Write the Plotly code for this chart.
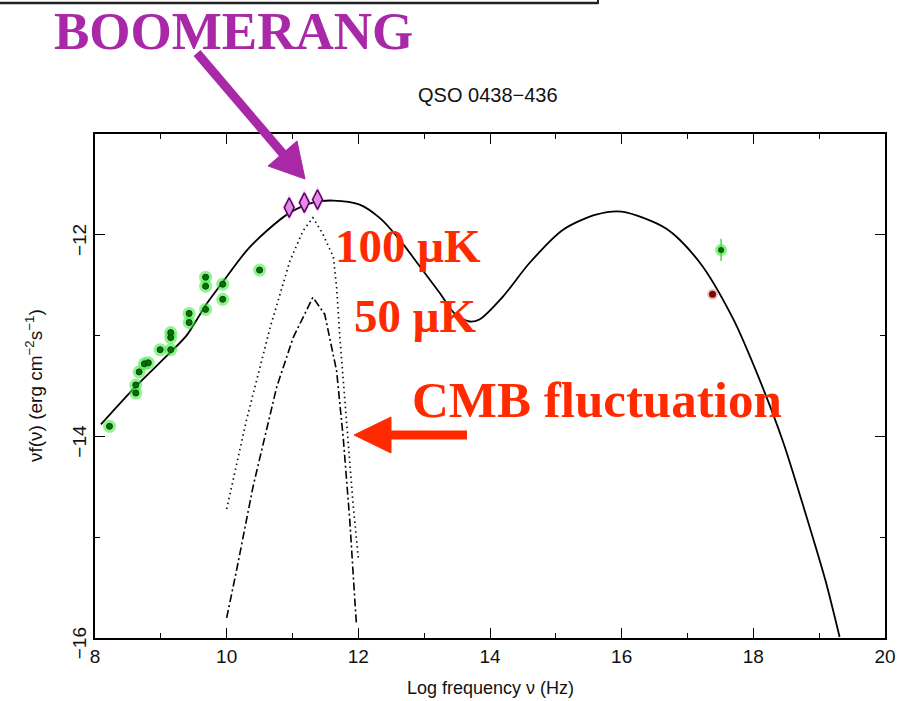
import plotly.graph_objects as go

# ---------------- data ----------------
# radio / mm data (green)
radio_x = [8.22, 8.62, 8.62, 8.67, 8.75, 8.81, 8.99, 9.15, 9.15, 9.15, 9.43, 9.43,
           9.68, 9.68, 9.68, 9.94, 9.94, 10.50]
radio_y = [-13.90, -13.49, -13.57, -13.36, -13.28, -13.27, -13.14, -12.97, -13.02, -13.14,
           -12.78, -12.87, -12.42, -12.51, -12.74, -12.49, -12.64, -12.35]

# BOOMERANG (purple diamonds)
boom_x = [10.95, 11.18, 11.38]
boom_y = [-11.73, -11.68, -11.65]

# X-ray points
xray_g_x = [17.51]
xray_g_y = [-12.15]
xray_g_err = [0.11]
xray_r_x = [17.38]
xray_r_y = [-12.59]

# SED model (solid)
model_x = [8.09, 8.61, 9.14, 9.39, 9.52, 9.69, 9.95, 10.30, 10.61, 10.96, 11.31, 11.62,
           12.02, 12.32, 12.63, 12.93, 13.24, 13.46, 13.69, 13.84, 14.20, 14.60, 15.11,
           15.61, 16.00, 16.68, 17.18, 17.69, 18.09, 18.45, 18.80, 19.10, 19.31]
model_y = [-13.88, -13.51, -13.17, -13.00, -12.87, -12.69, -12.46, -12.16, -11.96, -11.78,
           -11.68, -11.66, -11.70, -11.83, -12.05, -12.31, -12.58, -12.78, -12.86, -12.84,
           -12.61, -12.28, -11.95, -11.80, -11.77, -11.94, -12.27, -12.83, -13.43, -14.05,
           -14.78, -15.44, -15.99]

# CMB fluctuation 100 uK (dotted)
cmb100_x = [10.00, 10.30, 10.66, 10.96, 11.16, 11.31, 11.46, 11.62, 11.67, 11.72, 11.84, 11.92, 12.00]
cmb100_y = [-14.72, -13.84, -12.92, -12.26, -11.96, -11.83, -11.99, -12.22, -12.52, -13.02,
            -14.01, -14.67, -15.21]

# CMB fluctuation 50 uK (dash-dot)
cmb50_x = [10.00, 10.15, 10.40, 10.76, 11.01, 11.31, 11.49, 11.67, 11.77, 11.87, 11.95, 11.97]
cmb50_y = [-15.80, -15.33, -14.50, -13.51, -13.02, -12.62, -12.79, -13.35, -14.01, -14.83,
           -15.66, -15.85]

x_ticks = [8, 10, 12, 14, 16, 18, 20]
x_ticktext = ["8", "10", "12", "14", "16", "18", "20"]
y_ticks = [-16, -14, -12]
y_ticktext = ["\u221216", "\u221214", "\u221212"]

# ---------------- layout geometry ----------------
W, H = 913, 701
ML, MR, MT, MB = 95, 28, 134, 63
PW, PH = W - ML - MR, H - MT - MB


def px(x):
    return (x - ML) / PW


def py(y):
    return (H - MB - y) / PH


PURPLE = "#A828A8"
RED = "#FF2A00"
AXFONT = "Liberation Sans, Arial, sans-serif"
SERIF = "Liberation Serif, Times New Roman, serif"

fig = go.Figure()

# model & CMB curves
fig.add_trace(go.Scatter(x=model_x, y=model_y, mode="lines",
                         line=dict(color="black", width=1.8, shape="spline", smoothing=0.8),
                         showlegend=False))
fig.add_trace(go.Scatter(x=cmb100_x, y=cmb100_y, mode="lines",
                         line=dict(color="#111", width=1.7, dash="1.5px,3.5px"),
                         showlegend=False))
fig.add_trace(go.Scatter(x=cmb50_x, y=cmb50_y, mode="lines",
                         line=dict(color="black", width=1.6, dash="8px,3px,2px,3px"),
                         showlegend=False))

# green radio points: glow + core
fig.add_trace(go.Scatter(x=radio_x, y=radio_y, mode="markers",
                         marker=dict(size=13, color="rgba(50,235,50,0.55)", line=dict(width=0)),
                         showlegend=False))
fig.add_trace(go.Scatter(x=radio_x, y=radio_y, mode="markers",
                         marker=dict(size=6, color="#0d6a0d", line=dict(color="#054505", width=1)),
                         showlegend=False))

# X-ray points
fig.add_trace(go.Scatter(x=xray_g_x, y=xray_g_y, mode="markers",
                         error_y=dict(type="data", array=xray_g_err, color="#2fbf2f", thickness=1.2, width=0),
                         marker=dict(size=12, color="rgba(50,235,50,0.6)", line=dict(width=0)),
                         showlegend=False))
fig.add_trace(go.Scatter(x=xray_g_x, y=xray_g_y, mode="markers",
                         marker=dict(size=6, color="#0b5f0b"), showlegend=False))
fig.add_trace(go.Scatter(x=xray_r_x, y=xray_r_y, mode="markers",
                         marker=dict(size=11, color="rgba(200,80,80,0.35)", line=dict(width=0)),
                         showlegend=False))
fig.add_trace(go.Scatter(x=xray_r_x, y=xray_r_y, mode="markers",
                         marker=dict(size=7, color="#7a0a0a"), showlegend=False))

# BOOMERANG diamonds
fig.add_trace(go.Scatter(x=boom_x, y=boom_y, mode="markers",
                         marker=dict(symbol="diamond-tall", size=19, color="rgba(230,120,230,0.35)", line=dict(width=0)),
                         showlegend=False))
fig.add_trace(go.Scatter(x=boom_x, y=boom_y, mode="markers",
                         marker=dict(symbol="diamond-tall", size=14, color="#e68ae8", line=dict(color="#55005a", width=1.5)),
                         showlegend=False))

axis_common = dict(showline=True, linecolor="black", linewidth=1.5, mirror="allticks",
                   ticks="inside", ticklen=10, tickwidth=1.2, tickcolor="black",
                   showgrid=False, zeroline=False,
                   tickfont=dict(family=AXFONT, size=19, color="#111"))

fig.update_xaxes(range=[8, 20], tickvals=x_ticks, ticktext=x_ticktext,
                 minor=dict(dtick=1, ticks="inside", ticklen=5, tickcolor="black", tickwidth=1.2),
                 **axis_common)
fig.update_yaxes(range=[-16, -11], tickvals=y_ticks, ticktext=y_ticktext, tickangle=-90,
                 ticklabelshift=8,
                 minor=dict(dtick=1, ticks="inside", ticklen=5, tickcolor="black", tickwidth=1.2),
                 **axis_common)

shapes = []
# top box remnant
shapes.append(dict(type="line", xref="paper", yref="paper", x0=px(0), x1=px(598), y0=py(3), y1=py(3),
                   line=dict(color="#222", width=2.5)))
shapes.append(dict(type="line", xref="paper", yref="paper", x0=px(598), x1=px(598), y0=py(0), y1=py(4),
                   line=dict(color="#222", width=2)))
# purple arrow
shapes.append(dict(type="line", xref="paper", yref="paper", x0=px(197), y0=py(53), x1=px(284), y1=py(155),
                   line=dict(color=PURPLE, width=9)))
shapes.append(dict(type="path", xref="paper", yref="paper",
                   path=f"M {px(268)} {py(166)} L {px(297)} {py(141)} L {px(305)} {py(179)} Z",
                   fillcolor=PURPLE, line=dict(color=PURPLE, width=1)))
# red arrow
shapes.append(dict(type="line", xref="paper", yref="paper", x0=px(467), y0=py(435), x1=px(388), y1=py(435),
                   line=dict(color=RED, width=9)))
shapes.append(dict(type="path", xref="paper", yref="paper",
                   path=f"M {px(391)} {py(417)} L {px(391)} {py(453)} L {px(354)} {py(435)} Z",
                   fillcolor=RED, line=dict(color=RED, width=1)))

annotations = []


def ann(text, x, y, size, color, family, angle=0):
    annotations.append(dict(text=text, xref="paper", yref="paper", x=px(x), y=py(y),
                            xanchor="center", yanchor="middle", showarrow=False, textangle=angle,
                            font=dict(family=family, size=size, color=color)))


ann("<b>BOOMERANG</b>", 233, 31, 53, PURPLE, SERIF)
ann("<b>100 \u03bcK</b>", 408, 246, 47, RED, SERIF)
ann("<b>50 \u03bcK</b>", 415, 316, 47, RED, SERIF)
ann("<b>CMB fluctuation</b>", 597, 400, 51, RED, SERIF)
ann("QSO 0438\u2212436", 488, 95, 20, "#111", AXFONT)
ann("Log frequency \u03bd (Hz)", 490, 688, 18, "#111", AXFONT)
ann("\u03bdf(\u03bd) (erg cm<sup>\u22122</sup>s<sup>\u22121</sup>)", 34, 386, 19, "#111", AXFONT, angle=-90)

fig.update_layout(width=W, height=H, autosize=False,
                  margin=dict(l=ML, r=MR, t=MT, b=MB),
                  paper_bgcolor="white", plot_bgcolor="white",
                  shapes=shapes, annotations=annotations, showlegend=False)

fig.write_html("out.html")
